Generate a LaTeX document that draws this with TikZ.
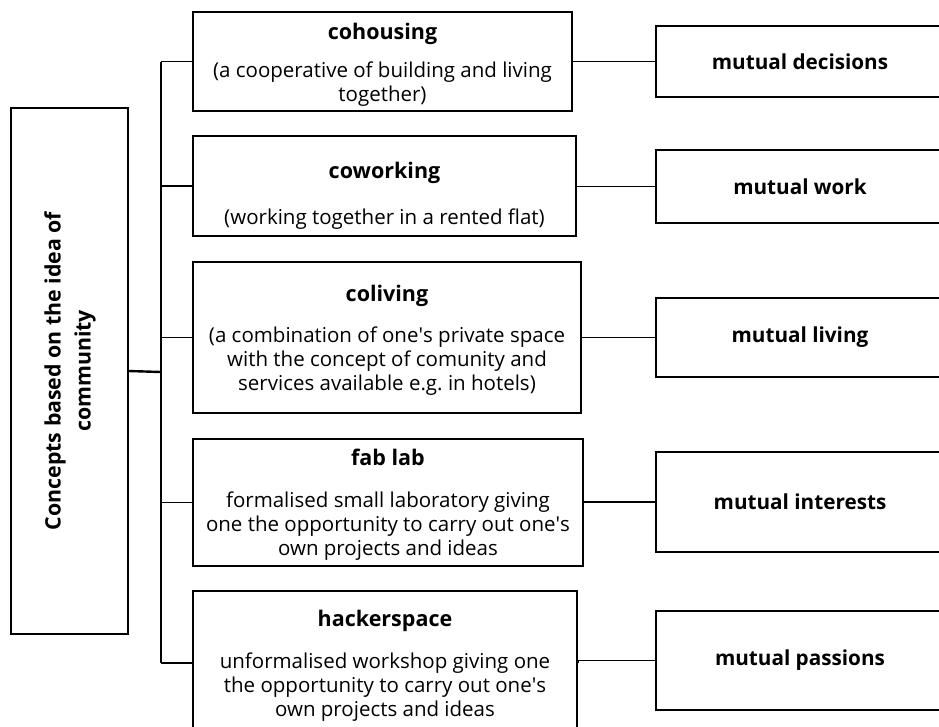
\documentclass[tikz,border=0pt]{standalone}
\usepackage{fontspec}
\usepackage{graphicx}
\setmainfont{Open Sans}
\newcommand{\apos}{\textquotesingle}
\newcommand{\ctitle}[1]{{\bfseries\fontsize{21.5}{24}\selectfont #1}}
\begin{document}
\begin{tikzpicture}[x=1pt,y=-1pt,
  box/.style={draw, line width=1.7pt, inner sep=0pt},
  ctext/.style={align=center, inner sep=0pt, font=\fontsize{20.5}{24}\selectfont},
  aspect/.style={box, font=\fontsize{20.7}{24}\selectfont\bfseries,
    minimum width=288pt},
  link/.style={line width=1.5pt},
  spine/.style={line width=2.4pt}]
\useasboundingbox (0,0) rectangle (939,726);
\clip (0,0) rectangle (939,726);
\fill[white] (0,0) rectangle (939,726);

% root concept, text set bottom to top
\node[box, minimum width=117pt, minimum height=526pt] (root) at (69.5,371)
  {\rotatebox{90}{\fontsize{21.3}{30}\selectfont\bfseries
   \begin{tabular}{@{}c@{}}Concepts based on the idea of\\ community\end{tabular}}};

% the five concepts
\node[box, minimum width=379pt, minimum height=99pt,
  label={[ctext, yshift=-3pt]center:\ctitle{cohousing}\\[14pt]
   (a cooperative of building and living\\ together)}] (c1) at (382.5,61.5) {};
\node[box, minimum width=383pt, minimum height=100pt,
  label={[ctext, yshift=-9.5pt]center:\ctitle{coworking}\\[22pt]
   (working together in a rented flat)}] (c2) at (384.5,186) {};
\node[box, minimum width=388pt, minimum height=151pt,
  label={[ctext, yshift=-2.5pt]center:\ctitle{coliving}\\[17pt]
   (a combination of one\apos s private space\\ with the concept of comunity and\\
   services available e.g.\ in hotels)}] (c3) at (387,337.5) {};
\node[box, minimum width=390pt, minimum height=127pt,
  label={[ctext, yshift=-2.5pt]center:\ctitle{fab lab}\\[18pt]
   formalised small laboratory giving\\ one the opportunity to carry out one\apos s\\
   own projects and ideas}] (c4) at (388,502.5) {};
\node[box, minimum width=384pt, minimum height=144pt,
  label={[ctext, yshift=-2.5pt]center:\ctitle{hackerspace}\\[18pt]
   unformalised workshop giving one\\ the opportunity to carry out one\apos s\\
   own projects and ideas}] (c5) at (385,663) {};

% what each concept shares
\node[aspect, minimum height=71pt] (a1) at (800,61.5) {mutual decisions};
\node[aspect, minimum height=73pt] (a2) at (800,186.5) {mutual work};
\node[aspect, minimum height=79pt] (a3) at (800,337.5) {mutual living};
\node[aspect, minimum height=100pt] (a4) at (800,502) {mutual interests};
\node[aspect, minimum height=99pt] (a5) at (800,660.5) {mutual passions};

% vertical spine joining the concepts
\coordinate (sp) at (161,372);
\draw[link] (c1.west -| sp) -- (c2.west -| sp);
\draw[spine] (c2.west -| sp) -- (c4.west -| sp);
\draw[link] (c4.west -| sp) -- (c5.west -| sp);
\draw[spine] (root.east) -- (sp);

\foreach \i in {1,...,5} {
  \draw[link] (c\i.west -| sp) -- (c\i.west);
  \draw[link] (c\i.east) -- (c\i.east |- a\i.west) -- (a\i.west);
}
\end{tikzpicture}
\end{document}
